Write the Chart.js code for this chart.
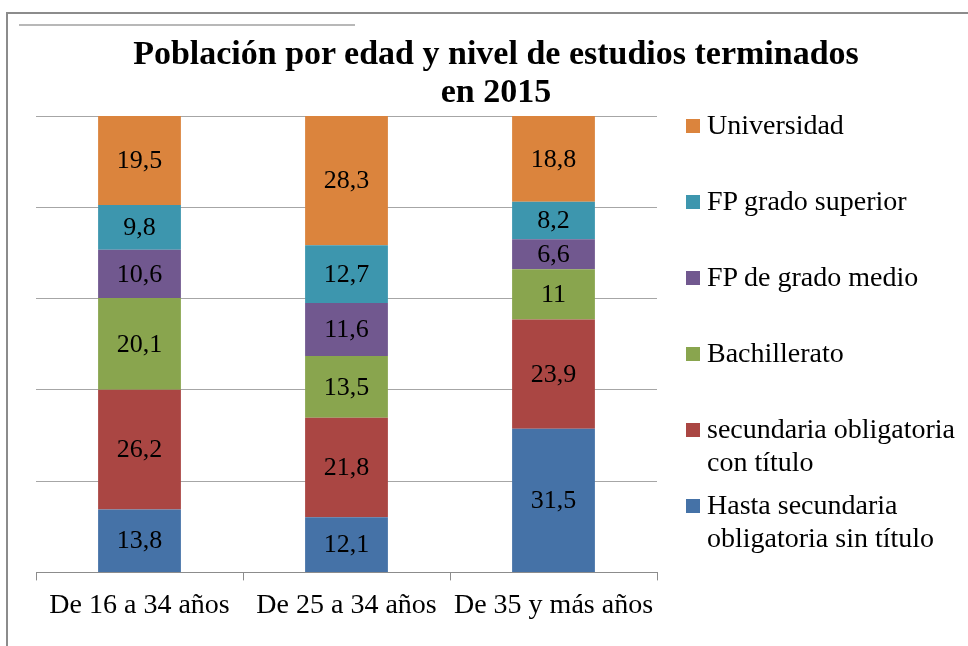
<!DOCTYPE html>
<html lang="es">
<head>
<meta charset="utf-8">
<title>Población por edad y nivel de estudios</title>
<script src="https://cdn.jsdelivr.net/npm/chart.js@4.4.0/dist/chart.umd.min.js"></script>
<style>
  body { margin: 0; background: #fff; font-family: "Liberation Serif", "Times New Roman", serif; }
  #marco { position: absolute; left: 6px; top: 12px; width: 970px; height: 640px;
           border-left: 2px solid #8c8c8c; border-top: 2px solid #8c8c8c; }
  #raya { position: absolute; left: 19px; top: 24px; width: 336px; border-top: 2px solid #b8b8b8; }
  #contenedor { position: absolute; left: 0; top: 0; width: 968px; height: 646px; }
  #titulo { position: absolute; left: 24px; top: 34px; width: 944px; text-align: center;
            font-weight: bold; font-size: 34px; line-height: 38px; color: #000; }
  #leyenda { position: absolute; left: 0; top: 0; }
  .item { position: absolute; left: 707px; font-size: 28px; line-height: 33px; color: #000; white-space: nowrap; }
  .cuadro { position: absolute; left: -21px; top: 11px; width: 14px; height: 14px; }
</style>
</head>
<body>
<div id="marco"></div>
<div id="raya"></div>
<div id="contenedor"><canvas id="grafico"></canvas></div>
<div id="titulo">Población por edad y nivel de estudios terminados<br>en 2015</div>
<div id="leyenda"></div>

<script>
// ================================
// DATOS
// ================================
const grupos = ["De 16 a 34 años", "De 25 a 34 años", "De 35 y más años"];

const hastaSecundaria = [13.8, 12.1, 31.5];
const secundariaTitulo = [26.2, 21.8, 23.9];
const bachillerato = [20.1, 13.5, 11];
const fpMedio = [10.6, 11.6, 6.6];
const fpSuperior = [9.8, 12.7, 8.2];
const universidad = [19.5, 28.3, 18.8];

const marcasY = [0, 20, 40, 60, 80, 100];

// series de abajo hacia arriba
const series = [
  { label: ["Hasta secundaria", "obligatoria sin título"], data: hastaSecundaria, color: "#4572A7" },
  { label: ["secundaria obligatoria", "con título"], data: secundariaTitulo, color: "#AA4643" },
  { label: ["Bachillerato"], data: bachillerato, color: "#89A54E" },
  { label: ["FP de grado medio"], data: fpMedio, color: "#71588F" },
  { label: ["FP grado superior"], data: fpSuperior, color: "#3D96AE" },
  { label: ["Universidad"], data: universidad, color: "#DB843D" },
];

// ================================
// ETIQUETAS DENTRO DE LAS BARRAS
// ================================
const etiquetasBarras = {
  id: "etiquetasBarras",
  afterDatasetsDraw(chart) {
    const ctx = chart.ctx;
    ctx.save();
    ctx.font = '26px "Liberation Serif"';
    ctx.fillStyle = "#000";
    ctx.textAlign = "center";
    ctx.textBaseline = "middle";
    chart.data.datasets.forEach((ds, i) => {
      chart.getDatasetMeta(i).data.forEach((barra, j) => {
        const { x, y, base } = barra.getProps(["x", "y", "base"], true);
        ctx.fillText(String(ds.data[j]).replace(".", ","), x, (y + base) / 2 + 1);
      });
    });
    ctx.restore();
  },
};

// ================================
// GRÁFICO
// ================================
const ctx = document.getElementById("grafico");
new Chart(ctx, {
  type: "bar",
  data: {
    labels: grupos,
    datasets: series.map((s) => ({
      label: s.label.join(" "),
      data: s.data,
      backgroundColor: s.color,
      borderWidth: 0,
      categoryPercentage: 0.8,
      barPercentage: 0.5,
    })),
  },
  options: {
    responsive: true,
    maintainAspectRatio: false,
    animation: false,
    layout: { padding: { left: 36, right: 311, top: 116, bottom: 16 } },
    plugins: {
      legend: { display: false },
      title: { display: false },
      tooltip: { enabled: false },
    },
    scales: {
      x: {
        stacked: true,
        grid: { drawOnChartArea: false, drawTicks: true, tickLength: 8, color: "#8c8c8c" },
        border: { display: true, color: "#8c8c8c" },
        ticks: { color: "#000", padding: 8, font: { family: "Liberation Serif", size: 28 } },
      },
      y: {
        stacked: true,
        min: 0,
        max: 100,
        afterBuildTicks: (eje) => { eje.ticks = marcasY.map((v) => ({ value: v })); },
        grid: { drawTicks: false, color: "#a6a6a6" },
        border: { display: false },
        ticks: { display: false },
      },
    },
  },
  plugins: [etiquetasBarras],
});

// ================================
// LEYENDA
// ================================
const leyendaEl = document.getElementById("leyenda");
series.slice().reverse().forEach((s, i) => {
  const item = document.createElement("div");
  item.className = "item";
  item.style.top = (108 + 76 * i) + "px";
  item.innerHTML = s.label.join("<br>");
  const cuadro = document.createElement("span");
  cuadro.className = "cuadro";
  cuadro.style.background = s.color;
  item.appendChild(cuadro);
  leyendaEl.appendChild(item);
});
</script>
</body>
</html>
